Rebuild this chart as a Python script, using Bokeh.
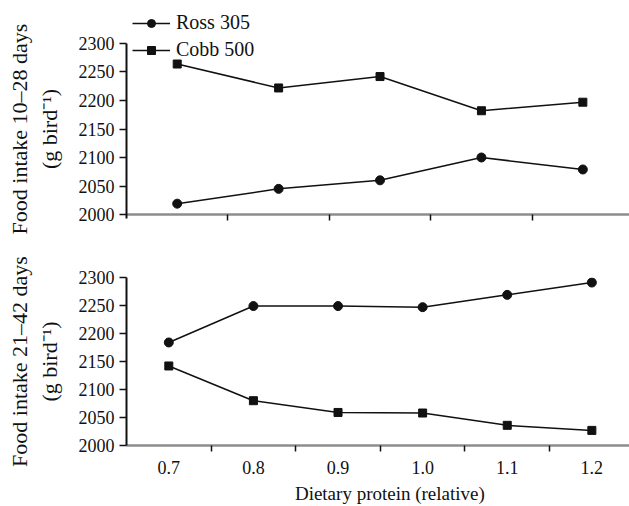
from bokeh.plotting import figure
from bokeh.layouts import column
from bokeh.models import FixedTicker, Legend, LegendItem, NumeralTickFormatter
from bokeh.embed import file_html
from bokeh.resources import INLINE

# ---- data ----
# Top panel (10-28 days): five diet levels, x positions unlabelled in the source
top_levels = [1, 2, 3, 4, 5]
ross_10_28 = [2019, 2045, 2060, 2100, 2079]
cobb_10_28 = [2264, 2222, 2242, 2182, 2197]

# Bottom panel (21-42 days)
protein = [0.7, 0.8, 0.9, 1.0, 1.1, 1.2]
ross_21_42 = [2184, 2249, 2249, 2247, 2269, 2291]
cobb_21_42 = [2142, 2080, 2059, 2058, 2036, 2027]

y_ticks = [2000, 2050, 2100, 2150, 2200, 2250, 2300]

FONT = "Liberation Serif"
INK = "#111111"
NB = "\u00a0"


def style(p, ylabel):
    p.outline_line_color = None
    p.xgrid.grid_line_color = None
    p.ygrid.grid_line_color = None
    p.background_fill_color = None
    p.border_fill_color = None
    ya = p.yaxis[0]
    ya.ticker = FixedTicker(ticks=y_ticks)
    ya.axis_line_color = INK
    ya.axis_line_width = 2
    ya.major_tick_line_color = INK
    ya.major_tick_line_width = 1.5
    ya.major_tick_out = 7
    ya.major_tick_in = 0
    ya.minor_tick_line_color = None
    ya.major_label_text_font = FONT
    ya.major_label_text_font_size = "18px"
    ya.major_label_text_color = INK
    ya.major_label_standoff = 5
    ya.axis_label = ylabel
    ya.axis_label_text_font = FONT
    ya.axis_label_text_font_style = "normal"
    ya.axis_label_text_font_size = "22px"
    ya.axis_label_text_color = INK
    ya.axis_label_standoff = 14
    xa = p.xaxis[0]
    xa.axis_line_color = "#8c8c8c"
    xa.axis_line_width = 2.5
    xa.major_tick_line_color = None
    xa.minor_tick_line_color = INK
    xa.minor_tick_line_width = 1.5
    xa.minor_tick_out = 6
    xa.minor_tick_in = 0
    xa.major_label_text_font = FONT
    xa.major_label_text_font_size = "18px"
    xa.major_label_text_color = INK


# ---- top panel ----
# frame runs from y=8 to y=249; 2000..2300 spans 171 px (y 214..43),
# the x axis sits at 2000 inside the frame so the y label centres on the data
p1 = figure(width=629, height=249, x_range=(0.5, 5.46), y_range=(1938.6, 2361.4),
            output_backend="svg", toolbar_location=None,
            min_border_left=126, min_border_right=0,
            min_border_top=8, min_border_bottom=0)
style(p1, "Food intake 10\u201328 days\n(g bird\u207b\u00b9)")
p1.yaxis.bounds = (1993, 2300)
top_bounds = [(a + b) / 2 for a, b in zip(top_levels[:-1], top_levels[1:])]
p1.xaxis.ticker = FixedTicker(ticks=[], minor_ticks=top_bounds)
p1.xaxis.major_label_text_font_size = "0px"
p1.xaxis.major_label_standoff = 0
p1.xaxis.fixed_location = 2000

r_l1 = p1.line(top_levels, ross_10_28, line_color=INK, line_width=1.5)
r_m1 = p1.scatter(top_levels, ross_10_28, marker="circle", size=9,
                  fill_color=INK, line_color=INK)
c_l1 = p1.line(top_levels, cobb_10_28, line_color=INK, line_width=1.5)
c_m1 = p1.scatter(top_levels, cobb_10_28, marker="square", size=8,
                  fill_color=INK, line_color=INK)

legend = Legend(items=[LegendItem(label="Ross 305", renderers=[r_l1, r_m1]),
                       LegendItem(label="Cobb 500", renderers=[c_l1, c_m1])],
                location=(6, 188), padding=0, margin=0, spacing=4,
                label_height=20, glyph_height=20, glyph_width=38,
                label_standoff=6, label_text_font=FONT,
                label_text_font_size="20px", label_text_color=INK,
                background_fill_alpha=0, border_line_alpha=0)
p1.add_layout(legend)

# ---- bottom panel ----
p2 = figure(width=629, height=257, x_range=(0.65, 1.2445), y_range=(2000, 2300),
            output_backend="svg", toolbar_location=None,
            min_border_left=126, min_border_right=0,
            min_border_top=28, min_border_bottom=55)
style(p2, "Food intake 21\u201342 days\n(g bird\u207b\u00b9)")
bot_bounds = [(a + b) / 2 for a, b in zip(protein[:-1], protein[1:])]
p2.xaxis.ticker = FixedTicker(ticks=protein, minor_ticks=bot_bounds)
p2.xaxis.formatter = NumeralTickFormatter(format="0.0")
p2.xaxis.major_label_standoff = 9
p2.xaxis.axis_label = NB * 5 + "Dietary protein (relative)"
p2.xaxis.axis_label_text_font = FONT
p2.xaxis.axis_label_text_font_style = "normal"
p2.xaxis.axis_label_text_font_size = "19px"
p2.xaxis.axis_label_text_color = INK
p2.xaxis.axis_label_standoff = 6

p2.line(protein, ross_21_42, line_color=INK, line_width=1.5)
p2.scatter(protein, ross_21_42, marker="circle", size=9, fill_color=INK, line_color=INK)
p2.line(protein, cobb_21_42, line_color=INK, line_width=1.5)
p2.scatter(protein, cobb_21_42, marker="square", size=8, fill_color=INK, line_color=INK)

layout = column(p1, p2, spacing=0)
open("out.html", "w").write(file_html(layout, INLINE))
